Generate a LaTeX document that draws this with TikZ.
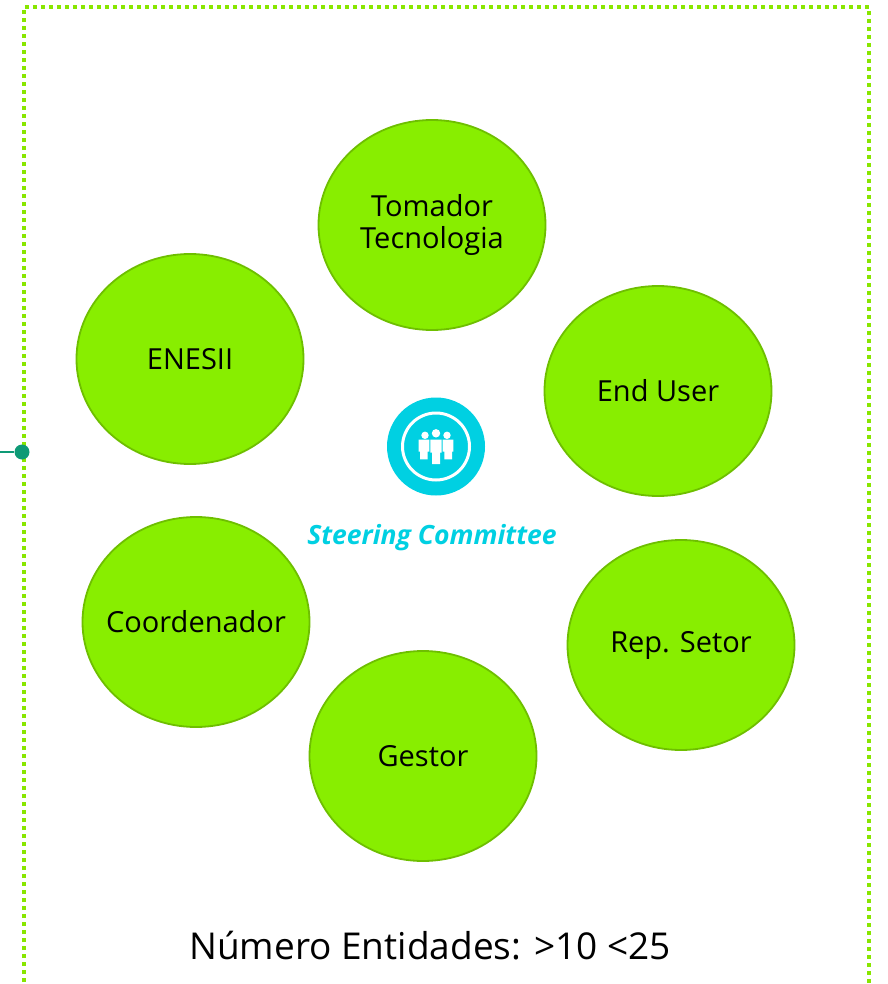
\documentclass[tikz,border=0pt]{standalone}
\usepackage{fontspec}
\setmainfont{Open Sans}
\usetikzlibrary{shapes.geometric}
\definecolor{lime}{HTML}{88EE00}
\definecolor{limeborder}{HTML}{6EBF00}
\definecolor{dotline}{HTML}{88E600}
\definecolor{teal}{HTML}{0E9A76}
\definecolor{cyanic}{HTML}{00D0E2}
\tikzset{
  member/.style={ellipse, draw=limeborder, line width=1.8pt, fill=lime,
    minimum width=227pt, minimum height=210pt, inner xsep=-25pt, inner ysep=0pt,
    font=\fontsize{29}{32}\selectfont, align=center, text=black},
  frame/.style={draw=dotline, line width=4pt, dash pattern=on 4pt off 4pt},
  link/.style={draw=teal, line width=2pt},
  bead/.style={circle, fill=teal, minimum size=15pt, inner sep=0pt},
}
\begin{document}
\begin{tikzpicture}[x=1pt,y=-1pt]
\useasboundingbox (0,0) rectangle (887,984);
\fill[white] (0,0) rectangle (887,984);
% frame
\coordinate (fbl) at (24,990);
\coordinate (ftl) at (24,7);
\coordinate (ftr) at (869,7);
\coordinate (fbr) at (869,990);
\draw[frame] (fbl) -- (ftl) -- (ftr) -- (fbr);
% connector
\coordinate (lin) at (0,452);
\node[bead] (dot) at (22,452) {};
\draw[link] (lin) -- (dot);
% members
\node[member] (tom) at (432,225) {Tomador\\Tecnologia};
\node[member] (ene) at (190,359) {ENESII};
\node[member] (end) at (658,391) {End User};
\node[member] (coo) at (196,622) {Coordenador};
\node[member] (rep) at (681,645) {Rep. Setor};
\node[member] (ges) at (423,756) {Gestor};
% icon
\node[circle, fill=cyanic, minimum size=98pt, inner sep=0pt] (icon) at (436,446.5) {};
\draw[white, line width=3pt] (icon.center) circle (33.5pt);
\fill[white] (436,433.3) circle (4.2pt);
\fill[white] (425,435.3) circle (3.7pt);
\fill[white] (447,435.3) circle (3.7pt);
\fill[white] (430.3,439.5) rectangle (441.7,452.7) (432,452.7) rectangle (440,464);
\fill[white] (418.7,439.5) rectangle (429.3,451.7) (420,451.7) rectangle (427.7,459.3);
\fill[white] (442.7,439.5) rectangle (453.3,451.7) (444.3,451.7) rectangle (452,459.3);
\node[font=\fontsize{26.5}{30}\selectfont\bfseries\itshape, text=cyanic] (title) at (432,538) {Steering Committee};
\node[font=\fontsize{37}{42}\selectfont, text=black] (count) at (430,946) {Número Entidades: >10 <25};
\end{tikzpicture}
\end{document}
